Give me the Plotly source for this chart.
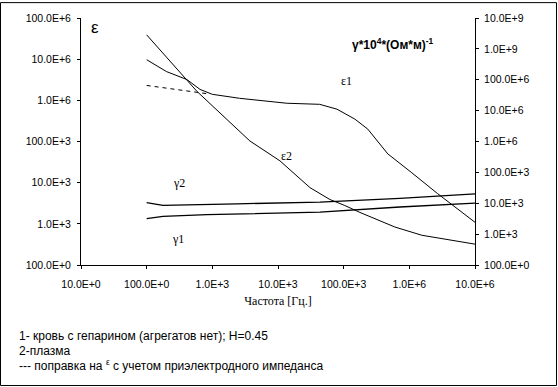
import plotly.graph_objects as go

# ---------------- data ----------------
freq_e1 = [100, 200, 410, 650, 1000, 2600, 13600, 43000, 79000, 148000, 233000, 470000, 1.09e6, 2.7e6, 1e7]
eps1 = [9.7e6, 5.0e6, 3.2e6, 1.84e6, 1.40e6, 1.12e6, 8.5e5, 8.0e5, 6.1e5, 3.5e5, 2.0e5, 5.0e4, 1.74e4, 5.4e3, 1.09e3]

freq_e2 = [100, 227, 583, 3730, 10700, 30600, 61700, 104000, 177000, 601000, 1.55e6, 1e7]
eps2 = [3.89e7, 8.7e6, 1.65e6, 1.03e5, 3.39e4, 7.6e3, 3.9e3, 2.79e3, 1.89e3, 838, 528, 321]

freq_corr = [100, 220, 400, 830]
eps_corr = [2.3e6, 1.94e6, 1.67e6, 1.45e6]

freq_g2 = [100, 177, 2370, 43400, 716000, 1e7]
gamma2 = [1.04e4, 8.5e3, 9.6e3, 1.08e4, 1.44e4, 2.02e4]

freq_g1 = [100, 177, 828, 43400, 716000, 1e7]
gamma1 = [3.18e3, 3.77e3, 4.27e3, 5.17e3, 7.55e3, 1.007e4]

x_tickvals = [10, 100, 1e3, 1e4, 1e5, 1e6, 1e7]
x_ticktext = ["10.0E+0", "100.0E+0", "1.0E+3", "10.0E+3", "100.0E+3", "1.0E+6", "10.0E+6"]
yl_tickvals = [1e2, 1e3, 1e4, 1e5, 1e6, 1e7, 1e8]
yl_ticktext = ["100.0E+0", "1.0E+3", "10.0E+3", "100.0E+3", "1.0E+6", "10.0E+6", "100.0E+6"]
yr_tickvals = [1e2, 1e3, 1e4, 1e5, 1e6, 1e7, 1e8, 1e9, 1e10]
yr_ticktext = ["100.0E+0", "1.0E+3", "10.0E+3", "100.0E+3", "1.0E+6", "10.0E+6", "100.0E+6", "1.0E+9", "10.0E+9"]

# ---------------- layout geometry ----------------
W, H = 558, 387
L, R, T, B = 81, 475, 16, 265
pw, ph = R - L, B - T


def px(x):
    return (x - L) / pw


def py(y):
    return (B - y) / ph


SANS = "Liberation Sans, Arial, sans-serif"
SERIF = "Liberation Serif, Times New Roman, serif"

fig = go.Figure()
line = dict(color="black", width=1)
fig.add_trace(go.Scatter(x=freq_e1, y=eps1, mode="lines", line=line, yaxis="y", showlegend=False))
fig.add_trace(go.Scatter(x=freq_e2, y=eps2, mode="lines", line=line, yaxis="y", showlegend=False))
fig.add_trace(go.Scatter(x=freq_corr, y=eps_corr, mode="lines",
                         line=dict(color="black", width=1, dash="4px,4px"), yaxis="y", showlegend=False))
fig.add_trace(go.Scatter(x=freq_g2, y=gamma2, mode="lines", line=dict(color="black", width=1.3),
                         yaxis="y2", showlegend=False))
fig.add_trace(go.Scatter(x=freq_g1, y=gamma1, mode="lines", line=dict(color="black", width=1.3),
                         yaxis="y2", showlegend=False))

tickfont = dict(family=SANS, size=10.5, color="black")
fig.update_layout(
    width=W, height=H,
    margin=dict(l=L, r=W - R, t=T, b=H - B, pad=0),
    paper_bgcolor="white", plot_bgcolor="white",
    xaxis=dict(type="log", range=[1, 7], tickvals=x_tickvals, ticktext=x_ticktext,
               showgrid=False, zeroline=False, showline=True, linecolor="black", linewidth=1,
               ticks="outside", ticklen=3, tickcolor="black", tickfont=tickfont,
               ticklabelstandoff=6,
               title=dict(text="Частота [Гц.]", font=dict(family=SERIF, size=12, color="black"),
                          standoff=8)),
    yaxis=dict(type="log", range=[2, 8], tickvals=yl_tickvals, ticktext=yl_ticktext,
               showgrid=False, zeroline=False, showline=True, linecolor="black", linewidth=1,
               ticks="outside", ticklen=3, tickcolor="black", tickfont=tickfont,
               ticklabelstandoff=4),
    yaxis2=dict(type="log", range=[2, 10], tickvals=yr_tickvals, ticktext=yr_ticktext,
                overlaying="y", side="right", anchor="x",
                showgrid=False, zeroline=False, showline=True, linecolor="black", linewidth=1,
                ticks="outside", ticklen=3, tickcolor="black", tickfont=tickfont,
                ticklabelstandoff=3),
)

# outer frame
fig.add_shape(type="rect", xref="paper", yref="paper",
              x0=px(0.5), x1=px(556.5), y0=py(386.5), y1=py(0.5),
              line=dict(color="black", width=1), fillcolor="rgba(0,0,0,0)", layer="above")

ann = [
    (95, 26, "ε", dict(family=SANS, size=17, color="black"), "center"),
    (393, 42, "<b>γ*10<sup>4</sup>*(Ом*м)<sup>-1</sup></b>", dict(family=SANS, size=12, color="black"), "center"),
    (346, 80, "ε1", dict(family=SERIF, size=12, color="black"), "center"),
    (286, 155, "ε2", dict(family=SERIF, size=12, color="black"), "center"),
    (179, 182, "γ2", dict(family=SERIF, size=12, color="black"), "center"),
    (178, 239, "γ1", dict(family=SERIF, size=12, color="black"), "center"),
]
for x, y, t, f, al in ann:
    fig.add_annotation(x=px(x), y=py(y), xref="paper", yref="paper", text=t, showarrow=False,
                       font=f, xanchor=al, yanchor="middle")

notes = [
    (337, "1- кровь с гепарином (агрегатов нет); Н=0.45"),
    (352, "2-плазма"),
    (366, "--- поправка на <sup>ε</sup> с учетом приэлектродного импеданса"),
]
for y, t in notes:
    fig.add_annotation(x=px(17), y=py(y), xref="paper", yref="paper", text=t, showarrow=False,
                       font=dict(family=SANS, size=12, color="black"), xanchor="left", yanchor="middle")

fig.write_html("out.html", config={"displayModeBar": False},
               post_script="document.body.style.margin='0';document.body.style.padding='0';")
